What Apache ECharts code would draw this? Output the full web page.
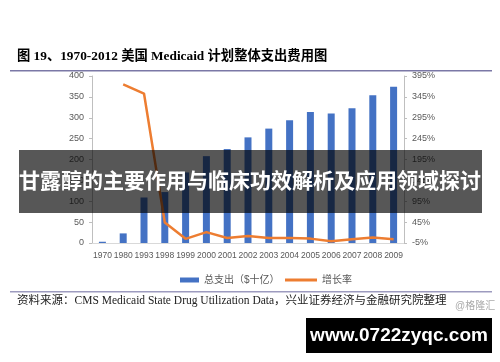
<!DOCTYPE html>
<html>
<head>
<meta charset="utf-8">
<script src="https://cdn.jsdelivr.net/npm/echarts@6/dist/echarts.min.js"></script>
<style>
html,body{margin:0;padding:0;background:#fff;}
#chart{width:500px;height:362px;}
</style>
</head>
<body>
<div id="chart"></div>
<script>
var years = ['1970','1980','1993','1998','1999','2000','2001','2002','2003','2004','2005','2006','2007','2008','2009'];
var spending = [3, 23, 109, 122, 169, 208, 225, 253, 274, 294, 314, 310, 323, 354, 374];
var growth = [null, 375, 353, 44, 5, 21, 7, 12, 7, 7, 5.5, -1, 4, 8, 4];
var leftTicks = {min: 0, max: 400, interval: 50};
var rightTicks = {min: -5, max: 395, interval: 50};
var titleText = '图 19、1970-2012 美国 Medicaid 计划整体支出费用图';
var sourceText = '资料来源：CMS Medicaid State Drug Utilization Data，兴业证券经济与金融研究院整理';
var bannerText = '甘露醇的主要作用与临床功效解析及应用领域探讨';
var seriesNames = ['总支出（$十亿）', '增长率'];

var serifFont = "'Liberation Serif','Noto Sans CJK SC',serif";
var sansFont = "'Liberation Sans','Noto Sans CJK SC',sans-serif";
var axisColor = '#bfbfbf';
var labelColor = '#595959';

var chart = echarts.init(document.getElementById('chart'), null, {renderer: 'canvas'});
chart.setOption({
  animation: false,
  backgroundColor: '#ffffff',
  grid: {left: 92, right: 96, top: 76, bottom: 119},
  legend: [
    {
      data: [{name: seriesNames[0], icon: 'rect'}],
      left: 175, top: 270,
      itemWidth: 19, itemHeight: 5,
      textStyle: {color: labelColor, fontSize: 10, fontFamily: sansFont}
    },
    {
      data: [{name: seriesNames[1], icon: 'rect'}],
      left: 280, top: 270,
      itemWidth: 32, itemHeight: 3,
      textStyle: {color: labelColor, fontSize: 10, fontFamily: sansFont}
    }
  ],
  xAxis: {
    type: 'category',
    data: years,
    boundaryGap: true,
    axisLine: {show: true, lineStyle: {color: '#d9d9d9', width: 1}},
    axisTick: {show: false},
    axisLabel: {interval: 0, color: labelColor, fontSize: 8.5, fontFamily: sansFont, margin: 8}
  },
  yAxis: [
    {
      type: 'value',
      min: leftTicks.min, max: leftTicks.max, interval: leftTicks.interval,
      axisLine: {show: true, lineStyle: {color: axisColor}},
      axisTick: {show: true, length: 3, lineStyle: {color: axisColor}},
      splitLine: {show: false},
      axisLabel: {color: labelColor, fontSize: 9, fontFamily: sansFont, margin: 8}
    },
    {
      type: 'value',
      position: 'right',
      min: rightTicks.min, max: rightTicks.max, interval: rightTicks.interval,
      axisLine: {show: true, lineStyle: {color: axisColor}},
      axisTick: {show: true, length: 3, lineStyle: {color: axisColor}},
      splitLine: {show: false},
      axisLabel: {color: labelColor, fontSize: 9, fontFamily: sansFont, margin: 8, formatter: '{value}%'}
    }
  ],
  series: [
    {
      name: seriesNames[0],
      type: 'bar',
      data: spending,
      barWidth: 7,
      itemStyle: {color: '#4472c4'}
    },
    {
      name: seriesNames[1],
      type: 'line',
      yAxisIndex: 1,
      data: growth,
      symbol: 'none',
      connectNulls: false,
      lineStyle: {color: '#ed7d31', width: 2.5},
      itemStyle: {color: '#ed7d31'}
    }
  ],
  graphic: [
    {type: 'text', left: 17, top: 50, z: 10,
      style: {text: titleText, font: 'bold 13.3px ' + serifFont, fill: '#000'}},
    {type: 'rect', shape: {x: 10, y: 70, width: 482, height: 1.5}, style: {fill: '#7b78a6'}, z: 10},
    {type: 'rect', shape: {x: 10, y: 291, width: 482, height: 1.5}, style: {fill: '#9d9bbf'}, z: 10},
    {type: 'text', left: 17, top: 295, z: 10,
      style: {text: sourceText, font: '11.5px ' + serifFont, fill: '#222'}},
    {type: 'text', left: 455, top: 301, z: 10,
      style: {text: '@格隆汇', font: '10px ' + sansFont, fill: '#aaaaaa'}},
    {type: 'rect', shape: {x: 19, y: 150, width: 463, height: 63}, style: {fill: 'rgba(0,0,0,0.66)'}, z: 20},
    {type: 'text', x: 250, y: 182, z: 21,
      style: {text: bannerText, font: 'bold 21px ' + sansFont, fill: '#ffffff', align: 'center', verticalAlign: 'middle'}},
    {type: 'rect', shape: {x: 306, y: 318, width: 186, height: 35}, style: {fill: '#000000'}, z: 20},
    {type: 'text', x: 399, y: 335.5, z: 21,
      style: {text: 'www.0722zyqc.com', font: 'bold 19px ' + sansFont, fill: '#ffffff', align: 'center', verticalAlign: 'middle'}}
  ]
});
</script>
</body>
</html>
